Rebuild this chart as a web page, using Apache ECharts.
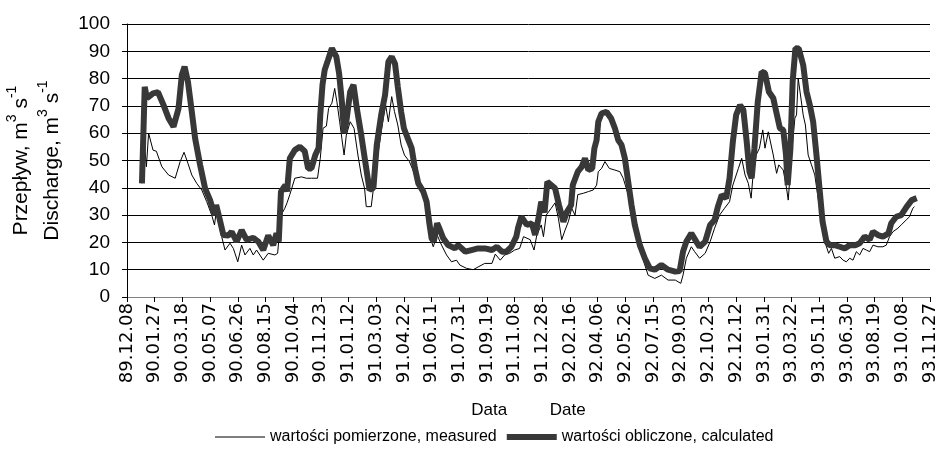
<!DOCTYPE html>
<html>
<head>
<meta charset="utf-8">
<script src="https://cdn.jsdelivr.net/npm/echarts@6/dist/echarts.min.js"></script>
<style>html,body{margin:0;padding:0;background:#fff}#c{width:935px;height:453px}</style>
</head>
<body>
<div id="c"></div>
<script>
// x = days since 89.12.08
const tickLabels = ["89.12.08","90.01.27","90.03.18","90.05.07","90.06.26","90.08.15","90.10.04","90.11.23","91.01.12","91.03.03","91.04.22","91.06.11","91.07.31","91.09.19","91.11.08","91.12.28","92.02.16","92.04.06","92.05.26","92.07.15","92.09.03","92.10.23","92.12.12","93.01.31","93.03.22","93.05.11","93.06.30","93.08.19","93.10.08","93.11.27"];

const measuredDays = [27,32,35,39,47,53,63,75,87,96,103,110,117,126,135,144,153,158,161,171,177,186,192,200,207,213,222,228,234,246,255,267,272,278,285,289,294,303,315,324,333,344,349,354,360,364,370,375,379,384,388,392,396,403,410,417,423,429,432,441,445,453,460,467,472,478,483,489,495,501,510,520,526,535,545,550,553,560,568,577,586,595,601,613,625,634,646,659,665,674,682,691,700,709,716,728,735,740,748,752,757,766,773,779,785,791,797,803,809,814,824,833,842,848,851,857,863,871,881,890,896,905,914,923,933,941,944,953,965,977,990,1000,1004,1010,1019,1025,1034,1044,1053,1061,1070,1079,1088,1094,1104,1110,1116,1122,1127,1130,1136,1142,1148,1152,1158,1167,1173,1177,1185,1191,1194,1200,1206,1209,1212,1221,1225,1230,1236,1242,1248,1254,1260,1267,1272,1278,1287,1293,1299,1305,1311,1317,1323,1329,1335,1341,1347,1356,1365,1371,1377,1383,1392,1398,1407,1413,1419,1422];
const measuredValues = [41.6,55,47.7,60,53.8,53.4,47.7,44.7,43.5,49.6,53,49,44.7,41.6,39.2,34.9,30,26.4,31,22.1,17.2,19.7,17.8,12.9,19,15.4,17.8,15.4,17.2,13.5,16,15.4,16,30,32.5,34.5,37.5,43.5,44,43.5,43.5,43.5,50.8,61.8,62.6,69.1,71,76.4,71.5,64.2,58.1,52,59.3,64.2,61.8,52,44.7,39.8,33.1,33.1,39.8,52,61.8,70.3,64.2,73.4,67.9,63,55.7,52,49.6,44.7,41,38.6,27.6,20.3,18.4,22.7,19,15.4,12.9,13.5,11.7,10.5,10,11,12.3,12.3,15.7,13.5,15.4,16,17.2,17.8,22.1,21,17.2,22.7,26.4,22.1,30,32.5,34.5,28.8,21,24.5,27.6,32.5,30,37.5,38,38.6,39.2,41,45.9,47.1,49.6,47.1,46.5,45.9,43.5,37.5,28.8,20.3,13,8,7.4,6.8,8,6.2,6.2,5,8,14.2,18.4,16.6,14.2,16,20.3,25.2,30,32.5,34.9,41,47.1,50.8,44.7,41.6,36.2,43.5,52,54.5,61.2,54.5,60.5,52,45.3,48.4,46.5,39.8,35.5,52,65.5,66.7,80.1,66.7,63,52,48.4,44.7,36.2,27.6,20.3,16,17.8,14.2,14.8,13.5,12.9,14.2,13.5,16.6,15.4,17.8,17.2,16.6,19,18.4,18.4,19,22.1,23.9,25.2,26.4,28.2,29.4,32.5,33.1];

const calculatedDays = [27,32,36,47,56,66,75,84,93,99,104,110,117,123,132,141,150,158,161,167,174,183,189,198,207,216,228,237,246,255,264,270,274,278,286,289,294,303,312,321,327,333,340,346,349,353,357,363,370,378,383,388,392,396,403,409,415,423,432,438,445,451,459,466,472,478,484,489,495,500,507,514,520,526,535,541,546,550,554,560,564,571,580,592,598,611,622,634,646,659,668,677,685,694,703,706,712,722,731,737,743,748,754,759,766,773,780,788,794,802,805,814,821,827,833,840,844,848,851,857,866,874,881,887,893,899,905,911,917,926,935,944,953,965,977,990,998,1004,1010,1019,1028,1034,1044,1053,1061,1067,1074,1082,1088,1094,1100,1107,1113,1119,1124,1128,1133,1139,1146,1152,1159,1167,1170,1179,1185,1190,1193,1198,1202,1207,1213,1221,1227,1233,1239,1245,1251,1256,1263,1269,1278,1287,1296,1305,1315,1323,1332,1341,1347,1356,1365,1375,1380,1389,1398,1408,1417,1426];
const calculatedValues = [41.6,77,72.8,74.6,75,70.3,65.5,62.4,69,81.3,84.4,78.9,67.9,58.1,48.4,39.8,35.5,30,33.7,28.8,22.7,22.5,23.9,20.3,24.5,20.9,21.7,20.3,17.2,22.5,19,23.3,20.3,38.6,41,38.6,50.8,53.8,55,53.4,47.1,47.1,52,54.6,66.7,77.7,83.2,86.8,91.1,88,81.9,71.5,60,64.2,75.2,77.7,69.1,59.3,47.1,39.2,40,55.7,66.7,74,86.2,88,85.4,77,67.9,61.8,58.1,54.5,47.1,41.6,38.6,34.9,27,21.5,20.3,27,25.2,21.5,19,17.8,19,16.6,17.2,17.8,17.8,17.2,18.4,16.6,16.6,18.4,22.1,25.2,29.4,26.4,27,22.7,28.8,34.9,31,42.2,41,39.8,33.7,27.6,31,33.7,41,45.9,47.7,50.8,46.5,47.1,54.5,57.5,64.2,67.3,67.8,65.5,61.8,57.5,55.7,50.8,42.2,33.7,26.4,19,14.2,10.5,10,11.7,10,9.3,9.5,16.6,20.3,23.3,20.3,18.4,20.3,26.4,28.2,33.1,37.4,36.2,43.5,56.9,66.7,70.3,68.5,56.9,45.9,43.5,54.5,71.5,82.5,82,75.2,72.8,70,61.8,61.2,52,41,54.5,78.9,91.1,91,85,75.2,70.3,64.2,52,38.6,27.6,20.3,19,19,18.4,17.8,19,19,19.7,22.1,21,23.9,22.7,22.1,23.3,27,29.4,30,33.1,35.5,36.2];

const seriesNames = ['wartości pomierzone, measured', 'wartości obliczone, calculated'];
const pair = (xs, ys) => xs.map((x, i) => [x, ys[i]]);

const chart = echarts.init(document.getElementById('c'), null, {renderer: 'canvas'});
const FONT = '"Liberation Sans", Arial, sans-serif';
chart.setOption({
  animation: false,
  backgroundColor: '#fff',
  textStyle: {fontFamily: FONT, color: '#000'},
  grid: {left: 127, right: 5, top: 24, bottom: 156, containLabel: false, outerBoundsMode: 'none'},
  xAxis: {
    type: 'value', min: 0, max: 1450, interval: 50,
    name: 'Data         Date', nameLocation: 'middle', nameGap: 105,
    nameTextStyle: {fontSize: 17, color: '#000', fontFamily: FONT},
    axisLine: {lineStyle: {color: '#808080', width: 1}},
    axisTick: {show: true, inside: false, length: 5, lineStyle: {color: '#000'}},
    axisLabel: {rotate: 90, fontSize: 18, color: '#000', margin: 6, fontFamily: '"DejaVu Sans", sans-serif',
      formatter: v => tickLabels[Math.round(v / 50)] || ''},
    splitLine: {show: false}
  },
  yAxis: {
    type: 'value', min: 0, max: 100, interval: 10,
    name: 'Przepływ, m{s|3} s{s|-1}\nDischarge, m{s|3} s{s|-1}',
    nameLocation: 'middle', nameGap: 54, nameRotate: 90,
    nameTextStyle: {fontFamily: FONT, color: '#000', fontSize: 21, lineHeight: 31,
      rich: {
        s: {fontSize: 14, fontFamily: FONT, color: '#000', verticalAlign: 'top', lineHeight: 31, padding: [0, 0, 12, 0]}
      }},
    axisLine: {show: true, lineStyle: {color: '#000', width: 1}},
    axisTick: {show: true, inside: false, length: 5, lineStyle: {color: '#000'}},
    axisLabel: {fontSize: 19, color: '#000', margin: 17, fontFamily: FONT},
    splitLine: {show: true, lineStyle: {color: '#000', width: 1}}
  },
  legend: {
    bottom: 3, left: 210, itemWidth: 50, itemHeight: 10, itemGap: 10,
    textStyle: {fontSize: 16, color: '#000', fontFamily: FONT},
    data: [
      {name: seriesNames[0], icon: 'path://M0,0L0,0M0,10L0,10M0,4.5h50v1h-50z', itemStyle: {color: '#000'}},
      {name: seriesNames[1], icon: 'path://M0,0L0,0M0,10L0,10M0,2h50v6h-50z', itemStyle: {color: '#383838'}}
    ]
  },
  series: [
    {name: seriesNames[0], type: 'line', data: pair(measuredDays, measuredValues),
     showSymbol: false, symbol: 'none', lineStyle: {color: '#000', width: 1}, itemStyle: {color: '#000'}},
    {name: seriesNames[1], type: 'line', data: pair(calculatedDays, calculatedValues),
     showSymbol: false, symbol: 'none', lineStyle: {color: '#383838', width: 6}, itemStyle: {color: '#383838'}}
  ]
});
</script>
</body>
</html>
